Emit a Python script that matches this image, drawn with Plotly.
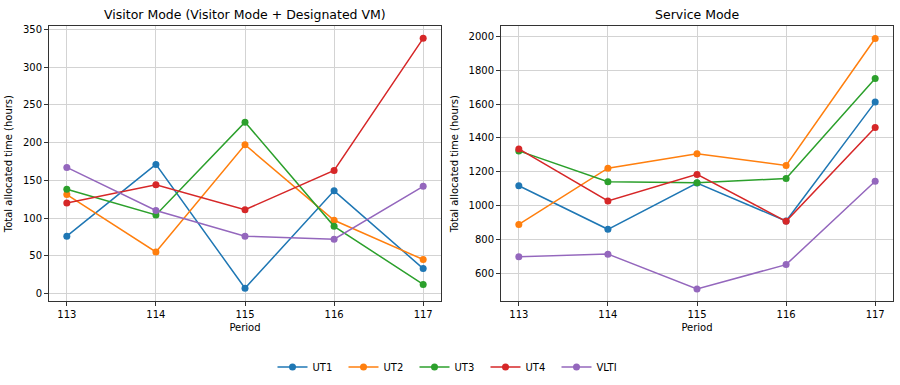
import plotly.graph_objects as go

periods = [113, 114, 115, 116, 117]
series_names = ["UT1", "UT2", "UT3", "UT4", "VLTI"]
colors = ["#1f77b4", "#ff7f0e", "#2ca02c", "#d62728", "#9467bd"]

visitor_ut1 = [76, 171, 7, 136, 33]
visitor_ut2 = [131, 55, 197, 97, 45]
visitor_ut3 = [138, 104, 227, 89, 12]
visitor_ut4 = [120, 144, 111, 163, 338]
visitor_vlti = [167, 110, 76, 72, 142]

service_ut1 = [1117, 859, 1133, 908, 1612]
service_ut2 = [888, 1221, 1306, 1237, 1988]
service_ut3 = [1323, 1141, 1135, 1159, 1751]
service_ut4 = [1335, 1027, 1184, 906, 1461]
service_vlti = [696, 712, 506, 650, 1143]

visitor = [visitor_ut1, visitor_ut2, visitor_ut3, visitor_ut4, visitor_vlti]
service = [service_ut1, service_ut2, service_ut3, service_ut4, service_vlti]

fig = go.Figure()
for i, name in enumerate(series_names):
    fig.add_trace(go.Scatter(
        x=periods, y=visitor[i], name=name, mode="lines+markers",
        line=dict(color=colors[i], width=1.5),
        marker=dict(color=colors[i], size=7),
        xaxis="x", yaxis="y", legendgroup=name, showlegend=True))
for i, name in enumerate(series_names):
    fig.add_trace(go.Scatter(
        x=periods, y=service[i], name=name, mode="lines+markers",
        line=dict(color=colors[i], width=1.5),
        marker=dict(color=colors[i], size=7),
        xaxis="x2", yaxis="y2", legendgroup=name, showlegend=False))

font = dict(family="DejaVu Sans", size=10, color="#000")
title_font = dict(family="DejaVu Sans", size=12.5, color="#000")
axis_common = dict(
    showline=True, linecolor="#333", linewidth=1, mirror=True,
    showgrid=True, gridcolor="#d3d3d3", gridwidth=1,
    ticks="outside", ticklen=4, tickcolor="#333", tickwidth=1,
    zeroline=False, tickfont=font,
)
ydom = [1 - 301 / 385, 1 - 24 / 385]
fig.update_layout(
    width=900, height=385,
    margin=dict(l=0, r=0, t=0, b=0),
    paper_bgcolor="white", plot_bgcolor="white",
    font=font,
    xaxis=dict(domain=[49 / 900, 441 / 900], range=[112.8, 117.2],
               tickvals=periods, anchor="y",
               title=dict(text="Period", font=font, standoff=4), **axis_common),
    yaxis=dict(domain=ydom, range=[-10.5, 354.5], tickvals=[0, 50, 100, 150, 200, 250, 300, 350],
               anchor="x",
               title=dict(text="Total allocated time (hours)", font=font, standoff=8), **axis_common),
    xaxis2=dict(domain=[501 / 900, 893 / 900], range=[112.8, 117.2],
                tickvals=periods, anchor="y2",
                title=dict(text="Period", font=font, standoff=4), **axis_common),
    yaxis2=dict(domain=ydom, range=[432, 2063], tickvals=[600, 800, 1000, 1200, 1400, 1600, 1800, 2000],
                anchor="x2",
                title=dict(text="Total allocated time (hours)", font=font, standoff=8), **axis_common),
    legend=dict(orientation="h", x=0.5, xanchor="center", y=1 - 367 / 385, yanchor="middle",
                font=font, bgcolor="rgba(0,0,0,0)", entrywidth=26, entrywidthmode="pixels"),
    annotations=[
        dict(text="Visitor Mode (Visitor Mode + Designated VM)", x=(49 + 441) / 2 / 900, y=1 - 13 / 385,
             xref="paper", yref="paper", showarrow=False, xanchor="center", yanchor="middle",
             font=title_font),
        dict(text="Service Mode", x=(501 + 893) / 2 / 900, y=1 - 13 / 385,
             xref="paper", yref="paper", showarrow=False, xanchor="center", yanchor="middle",
             font=title_font),
    ],
)
fig.write_html("out.html", config={"displayModeBar": False},
               post_script="document.body.style.margin='0px';")
